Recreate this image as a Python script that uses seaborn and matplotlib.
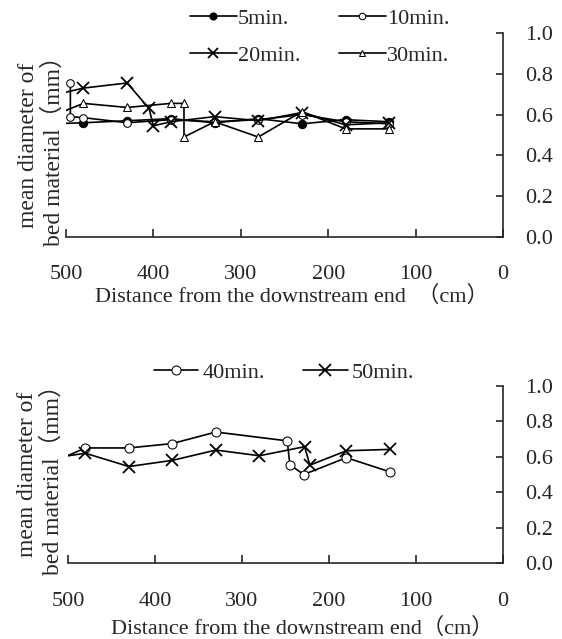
import matplotlib
matplotlib.use("Agg")
import matplotlib.pyplot as plt
import pandas as pd
import seaborn as sns

# Distances (cm from downstream end) and mean diameters (mm).
# The first point of some series lies just outside the axis (line enters from the edge).
dist_5 = [515, 480, 430, 380, 330, 280, 230, 180, 130]
diam_5 = [0.555, 0.56, 0.57, 0.58, 0.56, 0.58, 0.555, 0.575, 0.565]

dist_10 = [495, 495, 480, 430, 380, 330, 280, 230, 180, 130]
diam_10 = [0.755, 0.59, 0.585, 0.56, 0.575, 0.565, 0.575, 0.60, 0.565, 0.555]

dist_20 = [515, 480, 430, 405, 400, 380, 330, 280, 230, 180, 130]
diam_20 = [0.695, 0.73, 0.755, 0.63, 0.545, 0.565, 0.59, 0.57, 0.61, 0.55, 0.56]

dist_30 = [515, 480, 430, 380, 365, 365, 330, 280, 230, 180, 130]
diam_30 = [0.595, 0.655, 0.635, 0.655, 0.655, 0.49, 0.565, 0.49, 0.615, 0.53, 0.53]

dist_40 = [515, 480, 430, 380, 330, 248, 245, 229, 180, 130]
diam_40 = [0.575, 0.65, 0.65, 0.675, 0.74, 0.69, 0.555, 0.50, 0.595, 0.515]

dist_50 = [515, 480, 430, 380, 330, 280, 228, 222, 180, 130]
diam_50 = [0.595, 0.62, 0.545, 0.58, 0.638, 0.606, 0.657, 0.553, 0.634, 0.642]

x_ticks = [500, 400, 300, 200, 100, 0]
y_ticks = [0.0, 0.2, 0.4, 0.6, 0.8, 1.0]

X_LABEL_TOP = "Distance from the downstream end  （cm）"
X_LABEL_BOTTOM = "Distance from the downstream end（cm）"
Y_LABEL = "mean diameter of\nbed material（mm）"

MARKERS = {
    "5min.": dict(marker="o", mfc="black", ms=6),
    "10min.": dict(marker="o", mfc="white", ms=5.5),
    "20min.": dict(marker="x", mfc="black", ms=8, mew=1.3),
    "30min.": dict(marker="^", mfc="white", ms=5.5),
    "40min.": dict(marker="o", mfc="white", ms=6.5),
    "50min.": dict(marker="x", mfc="black", ms=8, mew=1.3),
}


def setup_style() -> None:
    sns.set_theme(style="ticks")
    plt.rcParams["font.family"] = ["Liberation Serif", "Noto Sans CJK JP"]
    plt.rcParams["font.size"] = 16
    plt.rcParams["axes.linewidth"] = 1.2


def draw_series(ax, dist, diam, label):
    df = pd.DataFrame({"dist": dist, "diam": diam})
    sns.lineplot(
        data=df, x="dist", y="diam", ax=ax, sort=False, estimator=None,
        color="black", linewidth=1.2, mec="black", label=label, **MARKERS[label]
    )


def style_axes(ax, label_x, label_y, xpad):
    ax.set_xlim(500, 0)
    ax.set_ylim(0, 1.0)
    ax.set_xticks(x_ticks)
    ax.set_yticks(y_ticks)
    ax.set_yticklabels([f"{v:.1f}" for v in y_ticks])
    ax.yaxis.tick_right()
    ax.spines["left"].set_visible(False)
    ax.spines["top"].set_visible(False)
    ax.spines["right"].set_visible(True)
    ax.tick_params(axis="x", direction="in", length=6, width=1.2, pad=xpad, labelsize=16)
    ax.tick_params(axis="y", direction="in", length=5, width=1.2, pad=16, labelsize=16)
    ax.set_xlabel("")
    ax.set_ylabel("")
    ax.text(label_x, label_y, Y_LABEL, transform=ax.transAxes, rotation=90,
            ha="center", va="center", fontsize=17, linespacing=1.2)


def main() -> None:
    setup_style()
    fig = plt.figure(figsize=(5.62, 6.39), dpi=100)
    ax1 = fig.add_axes([66 / 562, 1 - 237 / 639, 437 / 562, 204 / 639])
    ax2 = fig.add_axes([68 / 562, 1 - 563 / 639, 435 / 562, 177 / 639])

    draw_series(ax1, dist_5, diam_5, "5min.")
    draw_series(ax1, dist_10, diam_10, "10min.")
    draw_series(ax1, dist_20, diam_20, "20min.")
    draw_series(ax1, dist_30, diam_30, "30min.")
    draw_series(ax2, dist_40, diam_40, "40min.")
    draw_series(ax2, dist_50, diam_50, "50min.")

    style_axes(ax1, -0.057, 0.45, 20.5)
    style_axes(ax2, -0.063, 0.5, 21)

    ax1.text(0.517, -0.29, X_LABEL_TOP, transform=ax1.transAxes, ha="center", va="center", fontsize=16)
    ax2.text(0.538, -0.37, X_LABEL_BOTTOM, transform=ax2.transAxes, ha="center", va="center", fontsize=16)

    # legend rows: 5/10 then 20/30 (ncol fills column-wise, so reorder)
    handles, labels = ax1.get_legend_handles_labels()
    order = [0, 2, 1, 3]
    ax1.legend(
        [handles[i] for i in order], [labels[i] for i in order],
        loc="upper left", bbox_to_anchor=(190 / 562, 1 - 8 / 639), bbox_transform=fig.transFigure,
        ncol=2, frameon=False, fontsize=16, handlelength=2.1, handletextpad=0.05,
        columnspacing=1.75, labelspacing=0.77, borderpad=0, borderaxespad=0, markerscale=0.85,
    )
    ax2.legend(
        loc="upper left", bbox_to_anchor=(154 / 562, 1 - 362 / 639), bbox_transform=fig.transFigure,
        ncol=2, frameon=False, fontsize=16, handlelength=2.0, handletextpad=0.2,
        columnspacing=1.7, borderpad=0, borderaxespad=0,
    )

    fig.savefig("out.png", dpi=100)
    plt.close(fig)


if __name__ == "__main__":
    main()
